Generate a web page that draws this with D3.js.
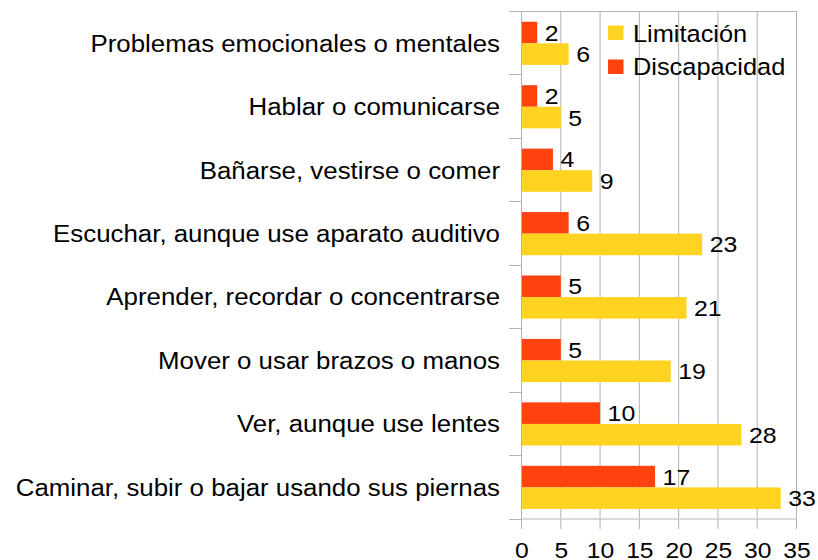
<!DOCTYPE html>
<html><head><meta charset="utf-8">
<script src="https://cdn.jsdelivr.net/npm/d3@7"></script>
<style>body{margin:0;background:#fff}svg{display:block}text{font-family:"Liberation Sans",Arial,sans-serif;fill:#000}</style>
</head><body>
<svg id="c" width="818" height="560"></svg>
<script>
const categories = ["Problemas emocionales o mentales","Hablar o comunicarse","Bañarse, vestirse o comer","Escuchar, aunque use aparato auditivo","Aprender, recordar o concentrarse","Mover o usar brazos o manos","Ver, aunque use lentes","Caminar, subir o bajar usando sus piernas"];
const discapacidad = [2,2,4,6,5,5,10,17];
const limitacion = [6,5,9,23,21,19,28,33];
const seriesNames = ["Limitación","Discapacidad"];
const xTicks = [0,5,10,15,20,25,30,35];
const colors = {"Limitación":"#FFD320","Discapacidad":"#FF420E"};

function widen(sel, f){
  sel.each(function(){
    const L = this.getComputedTextLength();
    d3.select(this).attr("textLength", L*f).attr("lengthAdjust","spacingAndGlyphs");
  });
}

const svg = d3.select("#c");
const x = d3.scaleLinear().domain([0,35]).range([521,796]);
const y = d3.scaleBand().domain(categories).range([11,518.5]).paddingInner(0).paddingOuter(0);
const sub = d3.scaleBand().domain(["Discapacidad","Limitación"]).range([0.6,y.bandwidth()+0.6]).paddingInner(0).paddingOuter(0.47);

// gridlines
svg.append("g").selectAll("line").data(xTicks.slice(1)).join("line")
  .attr("x1",d=>x(d)+0.5).attr("x2",d=>x(d)+0.5).attr("y1",11).attr("y2",518)
  .attr("stroke","#b3b3b3").attr("stroke-width",1);
svg.append("line").attr("x1",x(0)).attr("x2",x(35)+1).attr("y1",11.5).attr("y2",11.5).attr("stroke","#b3b3b3");

// bars
const rows = categories.map((c,i)=>({c, d:discapacidad[i], l:limitacion[i]}));
const g = svg.append("g");
const vlab = [];
rows.forEach(r=>{
  [["Discapacidad",r.d],["Limitación",r.l]].forEach(([s,v])=>{
    const yy = y(r.c)+sub(s);
    g.append("rect").attr("x",x(0)+0.5).attr("y",yy).attr("width",x(v)-x(0)).attr("height",sub.bandwidth()).attr("fill",colors[s]);
    vlab.push(g.append("text").attr("x",x(v)+8).attr("y",yy+sub.bandwidth()/2+8)
      .attr("font-size",22).text(v).node());
  });
});
widen(d3.selectAll(vlab),1.13);

// y axis
const ya = svg.append("g").attr("transform",`translate(${x(0)},0)`);
ya.append("line").attr("x1",0.5).attr("x2",0.5).attr("y1",11).attr("y2",529).attr("stroke","#b3b3b3");
ya.selectAll("line.t").data(d3.range(categories.length+1)).join("line").attr("class","t")
  .attr("x1",-12).attr("x2",0).attr("y1",i=>Math.round(11+i*y.step())+0.5).attr("y2",i=>Math.round(11+i*y.step())+0.5).attr("stroke","#b3b3b3");
const cl = ya.selectAll("text").data(categories).join("text")
  .attr("x",-21).attr("y",d=>y(d)+y.bandwidth()/2+9).attr("text-anchor","end")
  .attr("font-size",23.5).text(d=>d);
widen(cl,1.10);

// x axis
const xa = svg.append("g");
xa.append("line").attr("x1",x(0)).attr("x2",x(35)+1).attr("y1",519).attr("y2",519).attr("stroke","#b3b3b3");
xa.selectAll("line.t").data(xTicks).join("line").attr("class","t")
  .attr("x1",d=>x(d)+0.5).attr("x2",d=>x(d)+0.5).attr("y1",519).attr("y2",529).attr("stroke","#b3b3b3");
const xl = xa.selectAll("text").data(xTicks).join("text")
  .attr("x",d=>x(d)+1).attr("y",558).attr("text-anchor","middle").attr("font-size",22).text(d=>d);
widen(xl,1.12);

// legend
const lg = svg.append("g");
seriesNames.forEach((s,i)=>{
  lg.append("rect").attr("x",608).attr("y",25.5+i*34).attr("width",15.5).attr("height",14.5).attr("fill",colors[s]);
  const t = lg.append("text").attr("x",633).attr("y",41.5+i*33.5).attr("font-size",24.5).text(s);
  widen(t,1.035);
});
</script>
</body></html>
